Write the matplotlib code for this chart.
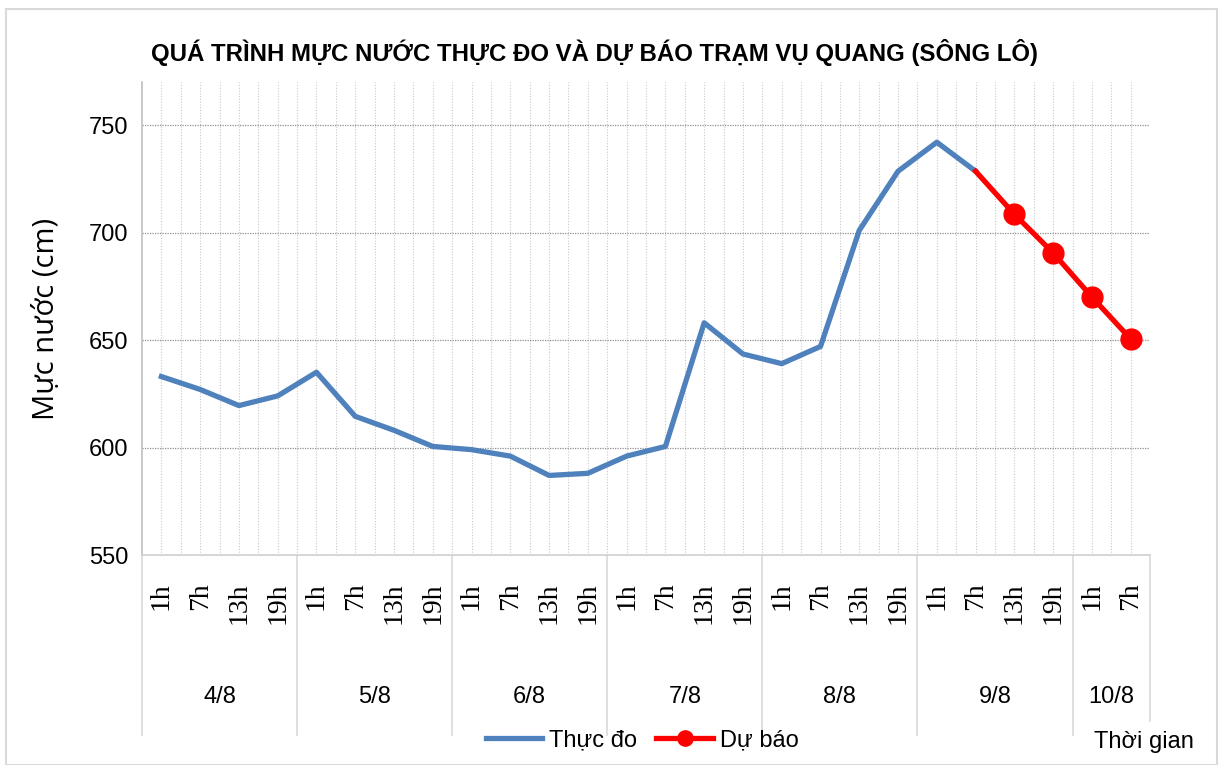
import numpy as np
import matplotlib
matplotlib.use('Agg')
import matplotlib.pyplot as plt
from matplotlib.patches import Rectangle
import matplotlib.transforms as mtransforms

# --- Data ---
DAYS = ['4/8', '5/8', '6/8', '7/8', '8/8', '9/8', '10/8']
HOURS_PER_DAY = [['1h', '7h', '13h', '19h']] * 6 + [['1h', '7h']]
HOUR_LABELS = [h for hrs in HOURS_PER_DAY for h in hrs]

OBSERVED = [633, 627, 619.5, 624, 635, 614.5, 608, 600.5, 599, 596, 587, 588,
            596, 600.5, 658, 643.5, 639, 647, 701, 728.5, 742, 728.5]
# forecast starts at the last observed point (9/8 7h)
FORECAST_START = 21
FORECAST = [728.5, 708.5, 690.5, 670, 650.5]

SANS = ['Liberation Sans', 'DejaVu Sans']
BLUE = '#4F81BD'
RED = '#FF0000'

fig = plt.figure(figsize=(12.21, 7.65), dpi=100)
ax = fig.add_axes([0.1163, 0.2745, 0.8256, 0.6183])

x_obs = np.arange(len(OBSERVED))
x_fc = np.arange(FORECAST_START, FORECAST_START + len(FORECAST))

ax.plot(x_obs, OBSERVED, color=BLUE, lw=3.8, label='Thực đo', zorder=3)
ax.plot(x_fc, FORECAST, color=RED, lw=3.8, label='Dự báo', zorder=4)
ax.plot(x_fc[1:], FORECAST[1:], 'o', color=RED, ms=15, zorder=5)

n = len(HOUR_LABELS)
ax.set_xlim(-0.5, n - 0.5)
ax.set_ylim(550, 770)
ax.set_yticks([550, 600, 650, 700, 750])

# grid: verticals at centres and boundaries, dotted
for xv in np.arange(0, n, 0.5):
    ax.axvline(xv, color='#C8C8C8', lw=0.8, ls=(0, (1, 1.5)), zorder=1)
for yv in [600, 650, 700, 750]:
    ax.axhline(yv, color='#909090', lw=0.9, ls=(0, (1, 1)), zorder=1)

for s in ['top', 'right']:
    ax.spines[s].set_visible(False)
ax.spines['left'].set_color('#BFBFBF')
ax.spines['bottom'].set_color('#D0D0D0')
ax.spines['left'].set_linewidth(1.2)
ax.spines['bottom'].set_linewidth(1.2)

ax.tick_params(axis='y', length=0, pad=10)
for lbl in ax.get_yticklabels():
    lbl.set_family(SANS)
    lbl.set_fontsize(17)

ax.set_xticks(np.arange(n))
ax.set_xticklabels(HOUR_LABELS, rotation=90, family=['Liberation Serif', 'DejaVu Serif'], fontsize=20)
ax.tick_params(axis='x', length=0, pad=20)

# date groups under the hour labels
trans = mtransforms.blended_transform_factory(ax.transData, ax.transAxes)
start = 0
for day, hrs in zip(DAYS, HOURS_PER_DAY):
    end = start + len(hrs)
    ax.text((start + end - 1) / 2, -0.30, day, transform=trans, ha='center', va='center',
            family=SANS, fontsize=17)
    ax.plot([start - 0.5, start - 0.5], [0, -0.38], transform=trans, color='#D9D9D9',
            lw=1.2, clip_on=False)
    start = end
ax.plot([n - 0.5, n - 0.5], [0, -0.35], transform=trans, color='#D9D9D9', lw=1.2, clip_on=False)

ax.set_ylabel('Mực nước (cm)', family=['Open Sans', 'DejaVu Sans'], fontsize=21, labelpad=20)

fig.text(0.487, 0.932, 'QUÁ TRÌNH MỰC NƯỚC THỰC ĐO VÀ DỰ BÁO TRẠM VỤ QUANG (SÔNG LÔ)',
         ha='center', va='center', family=SANS, fontsize=17.3, fontweight='bold')

leg = fig.legend(handles=[ax.lines[0], plt.Line2D([], [], color=RED, lw=3.8, marker='o', ms=11)],
                 labels=['Thực đo', 'Dự báo'], loc='center', bbox_to_anchor=(0.526, 0.032),
                 ncol=2, frameon=False, prop={'family': SANS, 'size': 17},
                 handlelength=2.4, columnspacing=0.8, handletextpad=0.3)

fig.text(0.978, 0.03, 'Thời gian', ha='right', va='center', family=SANS, fontsize=17)

fig.patches.append(Rectangle((0.005, 0.0), 0.992, 0.988, transform=fig.transFigure,
                             fill=False, edgecolor='#D9D9D9', lw=1.5))

fig.savefig('out.png', dpi=100)
